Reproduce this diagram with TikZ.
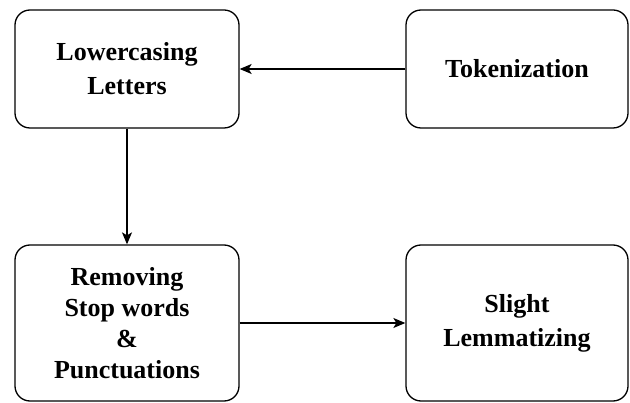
\documentclass[tikz,border=0pt]{standalone}
\usepackage{fontspec}
\setmainfont{Liberation Serif}
\usetikzlibrary{arrows.meta}

\begin{document}
\begin{tikzpicture}[x=1pt,y=-1pt,
  stagebox/.style={draw,rounded corners=15pt,line width=1.3pt,align=center,
    inner sep=0pt,font=\fontsize{26}{34}\selectfont\bfseries},
  flow/.style={-{Stealth[length=12pt,width=10pt,inset=3pt]},line width=1.3pt}]
  \useasboundingbox (0,0) rectangle (630,403);
  % top row
  \node[stagebox,minimum width=224pt,minimum height=118pt] (lower) at (127,69) {Lowercasing\\Letters};
  \node[stagebox,minimum width=222pt,minimum height=118pt] (token) at (517,69) {Tokenization};
  % bottom row
  \node[stagebox,minimum width=224pt,minimum height=156pt,
    font=\fontsize{26}{31}\selectfont\bfseries] (remove) at (127,323) {Removing\\Stop words\\\&\\Punctuations};
  \node[stagebox,minimum width=222pt,minimum height=156pt] (lemma) at (517,323) {Slight\\Lemmatizing};
  % flow
  \draw[flow] (token) -- (lower);
  \draw[flow] (lower) -- (remove);
  \draw[flow] (remove) -- (lemma);
\end{tikzpicture}
\end{document}
